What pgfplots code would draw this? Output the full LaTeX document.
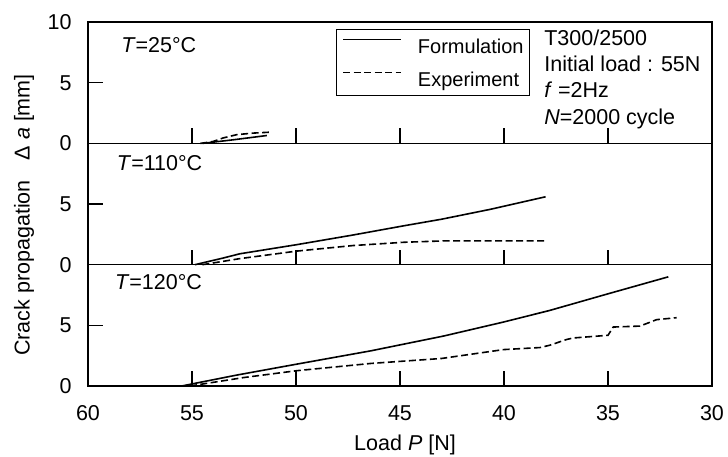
\documentclass[border=0pt]{standalone}
\usepackage{fontspec}
\setmainfont{Liberation Sans}
\usepackage{pgfplots}
\pgfplotsset{compat=1.18}
\newcommand\f{\fontsize{21.5bp}{25bp}\selectfont}
\newcommand\fl{\fontsize{20bp}{24bp}\selectfont}
\pgfplotsset{
  panel/.style={
    scale only axis, width=624bp, height=121.3bp,
    xmin=30, xmax=60, x dir=reverse, ymin=0, ymax=10,
    xtick={30,35,...,60}, ytick={0,5},
    tick align=inside, major tick length=15bp, tick pos=left,
    axis line style={line width=1.3bp},
    every tick/.style={line width=1.3bp, black},
    /pgf/number format/assume math mode=true,
    tick label style={font=\f},
    xticklabel style={yshift=-12bp},
    yticklabel style={xshift=-9bp},
    clip=false,
  },
  fm/.style={black, line width=1.6bp},
  ex/.style={black, line width=1.6bp, dash pattern=on 7bp off 3.5bp},
}
\begin{document}
\f
\begin{tikzpicture}
\path[use as bounding box] (-88bp,-71bp) rectangle (640bp,386bp);
% bottom panel T=120
\begin{axis}[panel, at={(0bp,0bp)}, anchor=south west]
\addplot[fm] coordinates {(55.5,0)(52.85,0.9)(49.97,1.8)(46.4,2.9)(42.9,4.12)(40.03,5.27)(37.8,6.23)(35,7.6)(32.1,9.0)};
\addplot[ex] coordinates {(55.1,0)(52.5,0.7)(49.97,1.26)(46.4,1.86)(43,2.27)(40.03,3.0)(38.27,3.17)(37.8,3.36)(37,3.83)(36.67,3.96)(35.0,4.18)(34.75,4.86)(33.46,4.94)(32.66,5.47)(31.7,5.63)};
\node[anchor=west, inner sep=0pt, font=\f] at (rel axis cs:0.043,0.856) {\textit{T}=120°C};
\end{axis}
% middle panel T=110
\begin{axis}[panel, at={(0bp,121.3bp)}, anchor=south west, xticklabels={}]
\addplot[fm] coordinates {(54.86,0)(53.5,0.55)(52.7,0.9)(49.97,1.65)(47.25,2.45)(44.84,3.2)(43,3.75)(40.67,4.56)(38,5.6)};
\addplot[ex] coordinates {(54.5,0)(52.7,0.5)(49.97,1.12)(47.25,1.58)(44.8,1.85)(42.76,1.97)(40,1.97)(38,1.97)};
\node[anchor=west, inner sep=0pt, font=\f] at (rel axis cs:0.046,0.835) {\textit{T}=110°C};
\end{axis}
% top panel T=25
\begin{axis}[panel, at={(0bp,242.6bp)}, anchor=south west, xticklabels={}, ytick={0,5,10},
  legend cell align=left,
  legend image code/.code={\draw[#1] (0bp,7bp) -- (58bp,7bp);},
  legend style={at={(0.397,0.942)}, anchor=north west, draw=black, line width=1.3bp,
    font=\fl, inner xsep=6bp, inner ysep=9bp, row sep=18bp, column sep=16bp,
    nodes={inner sep=0pt, text height=14bp, text depth=0bp}}]
\addplot[fm] coordinates {(54.5,0)(53,0.3)(51.4,0.65)};
\addlegendentry{Formulation\hspace{4bp}}
\addplot[ex] coordinates {(54.6,0)(54,0.15)(53.5,0.45)(52.85,0.72)(52.05,0.85)(51.3,0.92)};
\addlegendentry{Experiment}
\node[anchor=west, inner sep=0pt, font=\f] at (rel axis cs:0.053,0.81) {\textit{T}=25°C};
\node[anchor=base west, inner sep=0pt, font=\f] at (rel axis cs:0.731,0.81) {T300/2500};
\node[anchor=base west, inner sep=0pt, font=\f] at (rel axis cs:0.731,0.595) {Initial load : 55N};
\node[anchor=base west, inner sep=0pt, font=\f] at (rel axis cs:0.731,0.376) {\textit{f} =2Hz};
\node[anchor=base west, inner sep=0pt, font=\f] at (rel axis cs:0.731,0.157) {\textit{N}=2000 cycle};
\end{axis}
\node[rotate=90, font=\f] at (-64bp,171bp) {Crack propagation\hspace{0.9em}Δ\hspace{0.3em}\textit{a} [mm]};
\node[font=\f] at (317bp,-59bp) {Load \textit{P} [N]};
\end{tikzpicture}
\end{document}
